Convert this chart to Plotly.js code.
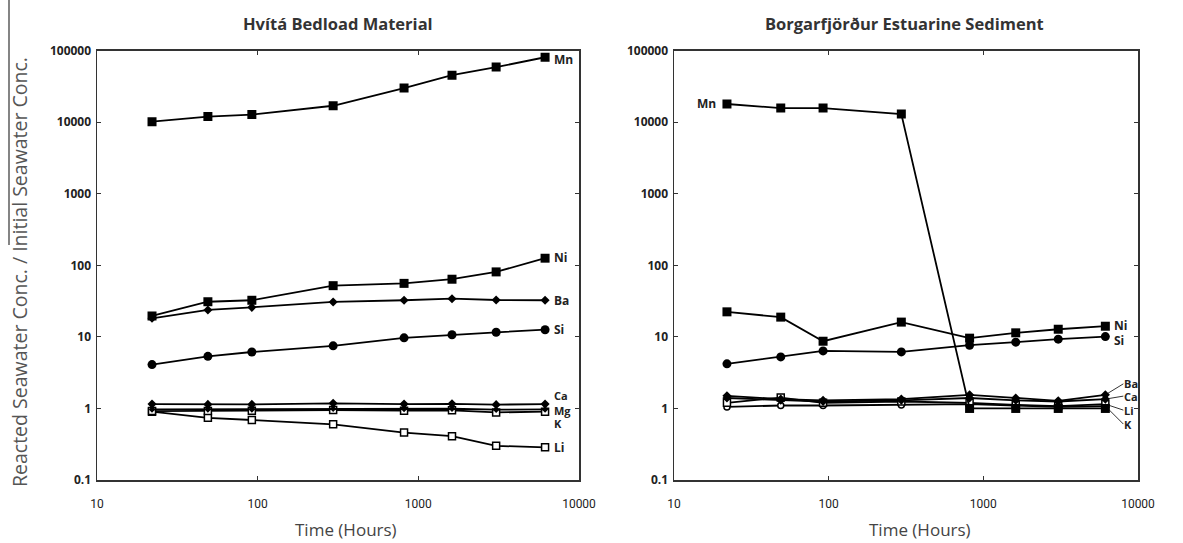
<!DOCTYPE html>
<html><head><meta charset="utf-8">
<script src="https://cdn.plot.ly/plotly-3.0.1.min.js"></script>
<style>html,body{margin:0;padding:0;background:#fff}#chart{width:1183px;height:543px}</style>
</head><body><div id="chart"></div>
<script>
// Time (hours) of each sampling
const hours = [22, 49, 92, 295, 815, 1620, 3050, 6150];
const xTickVals = [10, 100, 1000, 10000];
const xTickText = ["10", "100", "1000", "10000"];
const yTickVals = [0.1, 1, 10, 100, 1000, 10000, 100000];
const yTickText = ["0.1", "1", "10", "100", "1000", "10000", "100000"];

// Hvítá Bedload Material
const hv_Mn = [10200, 12000, 12800, 17000, 30000, 45500, 59000, 81000];
const hv_Ni = [19.6, 31, 32.5, 52, 56, 64, 81, 126];
const hv_Ba = [18.2, 23.8, 25.9, 30.8, 32.5, 34.2, 32.8, 32.5];
const hv_Si = [4.1, 5.35, 6.15, 7.5, 9.7, 10.7, 11.6, 12.6];
const hv_Ca = [1.15, 1.14, 1.14, 1.18, 1.15, 1.16, 1.13, 1.15];
const hv_Mg = [0.97, 0.97, 0.97, 0.99, 0.98, 0.99, 0.96, 0.97];
const hv_K  = [0.92, 0.92, 0.93, 0.95, 0.93, 0.94, 0.88, 0.90];
const hv_Li = [0.90, 0.74, 0.69, 0.60, 0.46, 0.41, 0.30, 0.286];

// Borgarfjörður Estuarine Sediment
const bf_Mn = [18000, 15800, 15800, 13000, 1.0, 1.0, 1.0, 1.0];
const bf_Ni = [22.4, 18.9, 8.7, 16.1, 9.6, 11.4, 12.8, 14.1];
const bf_Si = [4.2, 5.25, 6.37, 6.17, 7.65, 8.44, 9.3, 10.1];
const bf_Ba = [1.5, 1.35, 1.3, 1.35, 1.55, 1.4, 1.28, 1.55];
const bf_Ca = [1.4, 1.3, 1.25, 1.3, 1.4, 1.3, 1.25, 1.35];
const bf_Li = [1.2, 1.42, 1.2, 1.25, 1.2, 1.12, 1.08, 1.15];
const bf_K  = [1.05, 1.1, 1.1, 1.12, 1.15, 1.1, 1.05, 1.08];

const W = 1183, H = 543;
const sq = {symbol: 'square', size: 9, color: '#000'};
const ci = {symbol: 'circle', size: 9, color: '#000'};
const di = {symbol: 'diamond', size: 7, color: '#000'};
const dis = {symbol: 'diamond', size: 5, color: '#000'};
const osq = {symbol: 'square', size: 7, color: '#fff', line: {color: '#000', width: 1.5}};
const oci = {symbol: 'circle', size: 6, color: '#fff', line: {color: '#000', width: 1.5}};

function tr(y, marker, xa, ya, name) {
  return {x: hours, y: y, mode: 'lines+markers', name: name, xaxis: xa, yaxis: ya,
    line: {color: '#000', width: 1.8}, marker: marker, showlegend: false, hoverinfo: 'x+y+name'};
}

const data = [
  tr(hv_Li, osq, 'x', 'y', 'Li'),
  tr(hv_K, osq, 'x', 'y', 'K'),
  tr(hv_Mg, dis, 'x', 'y', 'Mg'),
  tr(hv_Ca, di, 'x', 'y', 'Ca'),
  tr(hv_Si, ci, 'x', 'y', 'Si'),
  tr(hv_Ba, di, 'x', 'y', 'Ba'),
  tr(hv_Ni, sq, 'x', 'y', 'Ni'),
  tr(hv_Mn, sq, 'x', 'y', 'Mn'),
  tr(bf_K, oci, 'x2', 'y2', 'K'),
  tr(bf_Li, osq, 'x2', 'y2', 'Li'),
  tr(bf_Ca, di, 'x2', 'y2', 'Ca'),
  tr(bf_Ba, di, 'x2', 'y2', 'Ba'),
  tr(bf_Si, ci, 'x2', 'y2', 'Si'),
  tr(bf_Ni, sq, 'x2', 'y2', 'Ni'),
  tr(bf_Mn, sq, 'x2', 'y2', 'Mn')
];

const last = hours.length - 1;
const lblFont = {family: 'Open Sans, sans-serif', size: 12, color: '#222', weight: 'bold'};
const smFont = {family: 'Open Sans, sans-serif', size: 11, color: '#222', weight: 'bold'};
function lab(text, series, xr, yr, yshift, f) {
  return {text: text, x: Math.log10(hours[last]), y: Math.log10(series[last]), xref: xr, yref: yr,
    showarrow: false, xanchor: 'left', yanchor: 'middle', xshift: 8, yshift: yshift,
    borderpad: 0, font: f || lblFont};
}
function lead(text, series, xr, yr, ay) {
  return {text: text, x: Math.log10(hours[last]), y: Math.log10(series[last]), xref: xr, yref: yr,
    showarrow: true, arrowhead: 0, arrowwidth: 0.8, arrowcolor: '#000', ax: 18, ay: ay,
    xanchor: 'left', yanchor: 'middle', borderpad: 0, font: smFont};
}

const axisCommon = {
  type: 'log', showgrid: false, zeroline: false, showline: true, linecolor: '#333', linewidth: 1.5,
  mirror: 'ticks', ticks: 'inside', ticklen: 4, tickwidth: 1, tickcolor: '#333', automargin: false
};
const xCommon = Object.assign({}, axisCommon, {
  range: [1, 4], tickmode: 'array', tickvals: xTickVals, ticktext: xTickText,
  tickfont: {family: 'Liberation Sans Narrow, Roboto, sans-serif', size: 12, color: '#222'},
  ticklabelstandoff: 12
});
const yCommon = Object.assign({}, axisCommon, {
  range: [-1, 5], tickmode: 'array', tickvals: yTickVals, ticktext: yTickText,
  tickfont: {family: 'Open Sans, sans-serif', size: 12, color: '#222', weight: 'bold'},
  ticklabelstandoff: 2
});

const py0 = 1 - 480 / H, py1 = 1 - 50.7 / H;
const titleFont = {family: 'Open Sans, sans-serif', size: 16.5, color: '#333', weight: 'bold'};
const xtFont = {family: 'Open Sans, sans-serif', size: 17, color: '#444'};
const layout = {
  width: W, height: H, margin: {l: 0, r: 0, t: 0, b: 0},
  paper_bgcolor: '#fff', plot_bgcolor: '#fff', showlegend: false,
  xaxis: Object.assign({}, xCommon, {domain: [97 / W, 579 / W], anchor: 'y'}),
  yaxis: Object.assign({}, yCommon, {domain: [py0, py1], anchor: 'x'}),
  xaxis2: Object.assign({}, xCommon, {domain: [674 / W, 1138 / W], anchor: 'y2'}),
  yaxis2: Object.assign({}, yCommon, {domain: [py0, py1], anchor: 'x2'}),
  shapes: [
    {type: 'line', xref: 'paper', yref: 'paper', x0: 9 / W, x1: 9 / W, y0: 1, y1: 1 - 245 / H,
     line: {color: '#333', width: 1.2}}
  ],
  annotations: [
    {text: 'Hvítá Bedload Material', xref: 'paper', yref: 'paper', x: 338 / W, y: 1 - 23 / H,
     xanchor: 'center', yanchor: 'middle', showarrow: false, font: titleFont},
    {text: 'Borgarfjörður Estuarine Sediment', xref: 'paper', yref: 'paper', x: 904 / W, y: 1 - 23 / H,
     xanchor: 'center', yanchor: 'middle', showarrow: false, font: titleFont},
    {text: 'Time (Hours)', xref: 'paper', yref: 'paper', x: 346 / W, y: 1 - 529 / H,
     xanchor: 'center', yanchor: 'middle', showarrow: false, font: xtFont},
    {text: 'Time (Hours)', xref: 'paper', yref: 'paper', x: 920 / W, y: 1 - 529 / H,
     xanchor: 'center', yanchor: 'middle', showarrow: false, font: xtFont},
    {text: 'Reacted Seawater Conc. / Initial Seawater Conc.', xref: 'paper', yref: 'paper',
     x: 19 / W, y: 1 - 272 / H, textangle: -90, showarrow: false, xanchor: 'center', yanchor: 'middle',
     font: {family: 'Open Sans, sans-serif', size: 19.5, color: '#555'}},
    lab('Mn', hv_Mn, 'x', 'y', -2),
    lab('Ni', hv_Ni, 'x', 'y', 1),
    lab('Ba', hv_Ba, 'x', 'y', 0),
    lab('Si', hv_Si, 'x', 'y', 0),
    lab('Ca', hv_Ca, 'x', 'y', 9, smFont),
    lab('Mg', hv_Mg, 'x', 'y', -1, smFont),
    lab('K', hv_K, 'x', 'y', -12, smFont),
    lab('Li', hv_Li, 'x', 'y', 0),
    {text: 'Mn', x: Math.log10(hours[0]), y: Math.log10(bf_Mn[0]), xref: 'x2', yref: 'y2',
     showarrow: false, xanchor: 'right', yanchor: 'middle', xshift: -9, font: lblFont},
    lab('Ni', bf_Ni, 'x2', 'y2', 1),
    lab('Si', bf_Si, 'x2', 'y2', -4),
    lead('Ba', bf_Ba, 'x2', 'y2', -11),
    lead('Ca', bf_Ca, 'x2', 'y2', -3),
    lead('Li', bf_Li, 'x2', 'y2', 6),
    lead('K', bf_K, 'x2', 'y2', 18)
  ]
};

Plotly.newPlot('chart', data, layout, {staticPlot: true, displayModeBar: false});
</script>
</body></html>
